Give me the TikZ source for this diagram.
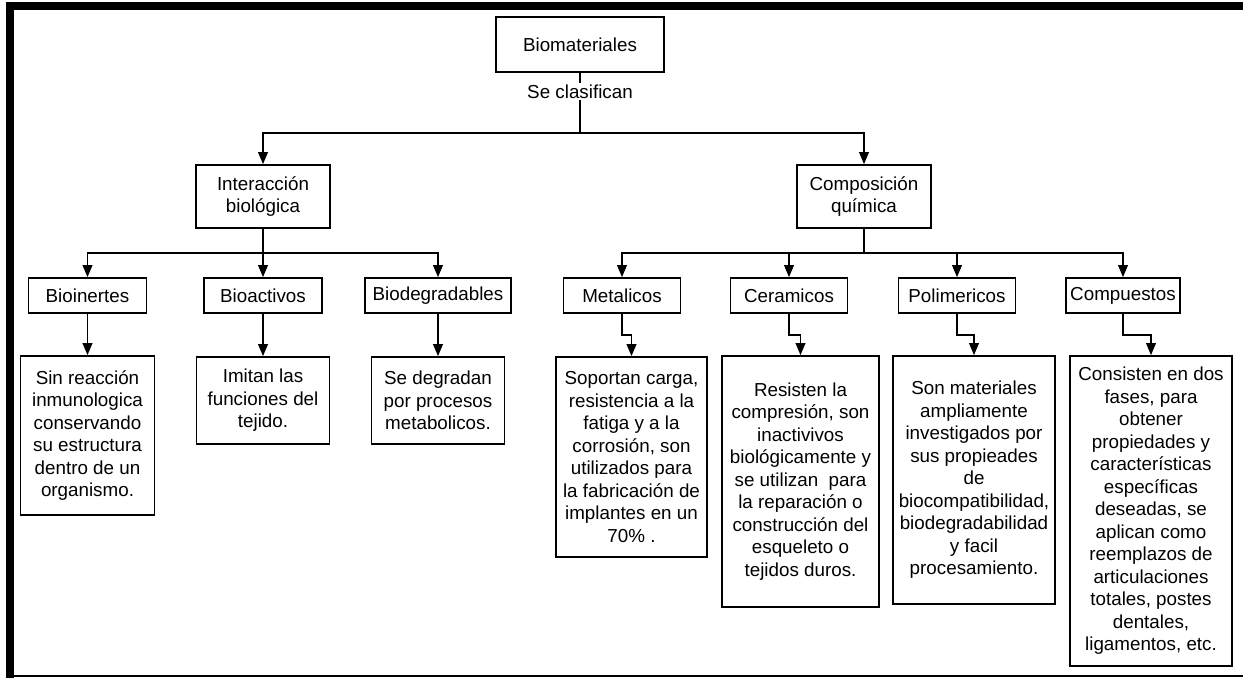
\documentclass[tikz,border=0pt]{standalone}
\usepackage{fontspec}
\setmainfont{Liberation Sans}
\usetikzlibrary{arrows.meta}

\begin{document}
\begin{tikzpicture}[x=0.5pt,y=-0.5pt,>={Triangle[length=6pt,width=4.8pt]},
  every node/.style={font=\fontsize{9.4}{11.25}\selectfont},
  box/.style={draw,line width=0.8pt,align=center,inner sep=0pt},
  item/.style={box,minimum height=17.5pt},
  link/.style={line width=0.9pt}]
  \fill[white] (0,0) rectangle (1243,678);
  \useasboundingbox (0,0) rectangle (1243,678);
  \fill (6,2) rectangle (1243,10);
  \fill (6,2) rectangle (14,678);
  \draw[line width=0.75pt] (6,676) -- (1243,676);

  \node[box,minimum width=84pt,minimum height=27.5pt] (bio) at (580,44.5) {Biomateriales};
  \node[box,minimum width=67pt,minimum height=31.5pt] (inter) at (263,196.5) {Interacción\\biológica};
  \node[box,minimum width=67pt,minimum height=31.5pt] (comp) at (864,196.5) {Composición\\química};

  \node[item,minimum width=59pt] (binert) at (87.5,295.5) {Bioinertes};
  \node[item,minimum width=59pt] (bact) at (263,295.5) {Bioactivos};
  \node[item,minimum width=73pt] (bdeg) at (438,295.5) {Biodegradables};
  \node[item,minimum width=58.5pt] (metal) at (622,295.5) {Metalicos};
  \node[item,minimum width=58.5pt] (ceram) at (789,295.5) {Ceramicos};
  \node[item,minimum width=58.5pt] (polim) at (957,295.5) {Polimericos};
  \node[item,minimum width=57pt] (compu) at (1123,295.5) {Compuestos};

  \node[box,minimum width=67pt,minimum height=79.5pt] (sinr) at (87.5,435.5)
    {Sin reacción\\inmunologica\\conservando\\su estructura\\dentro de un\\organismo.};
  \node[box,minimum width=66.5pt,minimum height=43.5pt] (imit) at (263,400.5)
    {Imitan las\\funciones del\\tejido.};
  \node[box,minimum width=66.5pt,minimum height=43.5pt] (sdeg) at (438,400.5)
    {Se degradan\\por procesos\\metabolicos.};
  \node[box,minimum width=75.5pt,minimum height=100pt] (sop) at (631.5,457)
    {Soportan carga,\\resistencia a la\\fatiga y a la\\corrosión, son\\utilizados para\\la fabricación de\\implantes en un\\70\% .};
  \node[box,minimum width=78.5pt,minimum height=125.5pt] (res) at (800.5,481.5)
    {Resisten la\\compresión, son\\inactivivos\\biológicamente y\\se utilizan\ \ para\\la reparación o\\construcción del\\esqueleto o\\tejidos duros.};
  \node[box,minimum width=81pt,minimum height=124pt] (son) at (974,480)
    {Son materiales\\ampliamente\\investigados por\\sus propieades\\de\\biocompatibilidad,\\biodegradabilidad\\y facil\\procesamiento.};
  \node[box,minimum width=81pt,minimum height=155pt] (cons) at (1151,511)
    {Consisten en dos\\fases, para\\obtener\\propiedades y\\características\\específicas\\deseadas, se\\aplican como\\reemplazos de\\articulaciones\\totales, postes\\dentales,\\ligamentos, etc.};

  \coordinate (split) at (580,133);
  \coordinate (isplit) at (263,253);
  \coordinate (csplit) at (864,253);

  \draw[link] (bio) -- node[pos=0.31,fill=white,inner sep=1pt] (clas) {Se clasifican} (split);
  \draw[link,->] (split) -| (inter);
  \draw[link,->] (split) -| (comp);

  \draw[link] (inter) -- (isplit);
  \draw[link,->] (isplit) -| (binert);
  \draw[link,->] (isplit) -- (bact);
  \draw[link,->] (isplit) -| (bdeg);
  \draw[link] (comp) -- (csplit);
  \draw[link,->] (csplit) -| (metal);
  \draw[link,->] (csplit) -| (ceram);
  \draw[link,->] (csplit) -| (polim);
  \draw[link,->] (csplit) -| (compu);

  \draw[link,->] (binert) -- (sinr);
  \draw[link,->] (bact) -- (imit);
  \draw[link,->] (bdeg) -- (sdeg);
  \draw[link,->] (metal.south) -- ++(0,21) -| (sop);
  \draw[link,->] (ceram.south) -- ++(0,21) -| (res);
  \draw[link,->] (polim.south) -- ++(0,21) -| (son);
  \draw[link,->] (compu.south) -- ++(0,21) -| (cons);
\end{tikzpicture}
\end{document}
